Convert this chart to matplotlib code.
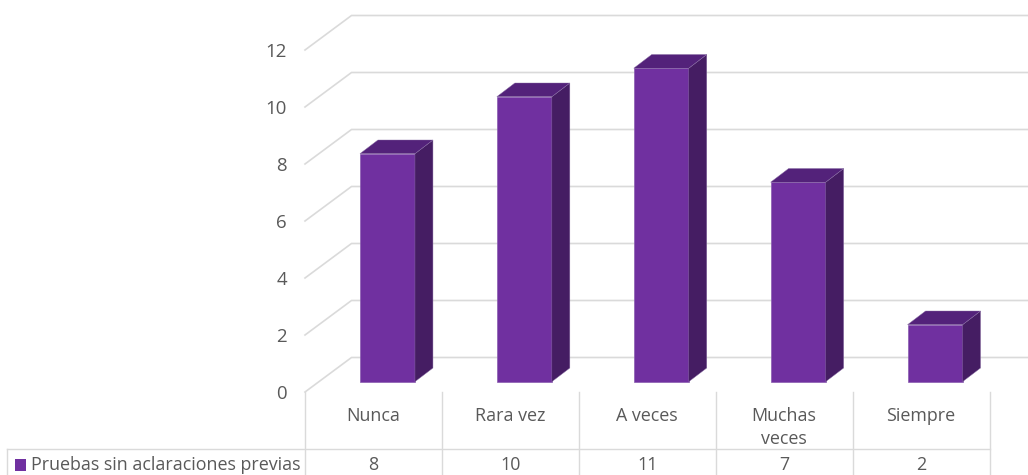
import matplotlib
matplotlib.use('Agg')
import matplotlib.pyplot as plt
from matplotlib.patches import Polygon, Rectangle

categories = ['Nunca', 'Rara vez', 'A veces', 'Muchas\nveces', 'Siempre']
values = [8, 10, 11, 7, 2]
series_name = 'Pruebas sin aclaraciones previas'
y_ticks = [0, 2, 4, 6, 8, 10, 12]

FRONT, SIDE, TOP = '#7030A0', '#451D63', '#53227A'
GRID, TEXT = '#DADADA', '#595959'
plt.rcParams['font.family'] = ['Open Sans', 'DejaVu Sans']
FS = 12.85

W, H = 1028, 475
L, R, B, T = 305, 989.5, 392, 50
fig = plt.figure(figsize=(W / 100, H / 100), dpi=100)
ax = fig.add_axes([L / W, (H - B) / H, (R - L) / W, (B - T) / H])
ax.set_xlim(-0.5, 4.5)
ax.set_ylim(0, 12)
for s in ax.spines.values():
    s.set_visible(False)

sx = (R - L) / 5
sy = (B - T) / 12
wall_dx, wall_dy = 46.5 / sx, 34.5 / sy
off_x, off_y = 14 / sx, 10.3 / sy
depth_x, depth_y = 18 / sx, 13.7 / sy
bar_w = 55 / sx
right_edge = -0.5 + (W - L) / sx

# Walls: gridlines recede from the front plane, then run along the back
for v in y_ticks:
    ax.plot([-0.5, -0.5 + wall_dx, right_edge], [v, v + wall_dy, v + wall_dy],
            color=GRID, lw=1.2, clip_on=False, zorder=1, solid_joinstyle='miter')

# 3-D bars
for i, v in enumerate(values):
    x0 = i + off_x - bar_w / 2
    x1 = x0 + bar_w
    y0 = off_y
    y1 = off_y + v
    ax.bar(x0 + bar_w / 2, v, width=bar_w, bottom=y0, color=FRONT,
           edgecolor='#8A5CB0', linewidth=0.5, zorder=3)
    ax.add_patch(Polygon([(x1, y0), (x1 + depth_x, y0 + depth_y),
                          (x1 + depth_x, y1 + depth_y), (x1, y1)],
                         closed=True, facecolor=SIDE, edgecolor='#8A6FA5',
                         linewidth=0.3, zorder=3, clip_on=False))
    ax.add_patch(Polygon([(x0, y1), (x0 + depth_x, y1 + depth_y),
                          (x1 + depth_x, y1 + depth_y), (x1, y1)],
                         closed=True, facecolor=TOP, edgecolor='#8A6FA5',
                         linewidth=0.3, zorder=3, clip_on=False))

# Axis labels
ax.set_yticks(y_ticks)
ax.set_xticks(range(len(categories)))
ax.set_xticklabels(categories, linespacing=1.42)
ax.tick_params(axis='y', length=0, pad=13, labelsize=FS + 0.6, labelcolor=TEXT)
ax.tick_params(axis='x', length=0, pad=10.5, labelsize=FS, labelcolor=TEXT)

# Data table beneath the chart
row_top = -(449 - B) / sy
row_bot = -(H - B) / sy
table_left = -0.5 - (L - 7) / sx
for k in range(len(categories) + 1):
    ax.plot([k - 0.5, k - 0.5], [0, row_bot], color=GRID, lw=1, clip_on=False, zorder=1)
ax.plot([table_left, 4.5], [row_top, row_top], color=GRID, lw=1, clip_on=False, zorder=1)
ax.plot([table_left, table_left], [row_top, row_bot], color=GRID, lw=1, clip_on=False, zorder=1)
row_mid = -(465.5 - B) / sy
for i, v in enumerate(values):
    ax.text(i, row_mid, str(v), ha='center', va='center', color=TEXT, fontsize=FS)
ax.text(table_left + 24 / sx, row_mid, series_name, ha='left', va='center',
        color=TEXT, fontsize=FS)
ax.add_patch(Rectangle((table_left + 8 / sx, -(470.5 - B) / sy), 11 / sx, 12 / sy,
                       facecolor=FRONT, edgecolor='none', clip_on=False))

fig.savefig('out.png', dpi=100)
